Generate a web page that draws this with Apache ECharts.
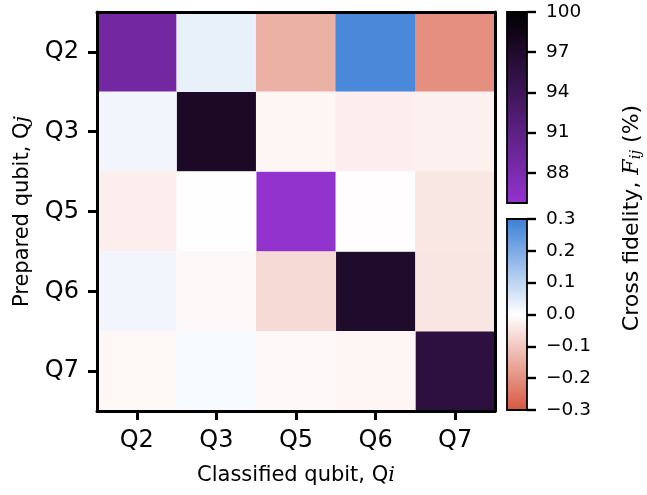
<!DOCTYPE html>
<html>
<head>
<meta charset="utf-8">
<script src="https://cdn.jsdelivr.net/npm/echarts@6/dist/echarts.min.js"></script>
<style>html,body{margin:0;padding:0;background:#fff}#c{width:647px;height:495px}</style>
</head>
<body>
<div id="c"></div>
<script>
// ---- data ----
const qubits = ['Q2', 'Q3', 'Q5', 'Q6', 'Q7'];
// diagonal: assignment fidelity (%) for prepared = classified
const diagFid = [88.9, 97.4, 85.8, 97.0, 95.6];
// off-diagonal cross fidelity, one array per prepared qubit (row), columns = classified qubit
const crossQ2 = [null, 0.035, -0.14, 0.276, -0.2];
const crossQ3 = [0.02, null, -0.016, -0.03, -0.025];
const crossQ5 = [-0.03, -0.001, null, -0.003, -0.043];
const crossQ6 = [0.02, -0.01, -0.066, null, -0.046];
const crossQ7 = [-0.014, 0.01, -0.012, -0.016, null];
const diagRange = [85.75, 100];
const crossRange = [-0.3, 0.3];
const diagTicks = [88, 91, 94, 97, 100];
const crossTicks = [-0.3, -0.2, -0.1, 0, 0.1, 0.2, 0.3];

const diagColors = ['#9333cf', '#000000'];
const crossColors = ['#d6573f', '#ffffff', '#3a7fd6'];

const crossRows = [crossQ2, crossQ3, crossQ5, crossQ6, crossQ7];
const diagData = diagFid.map((v, k) => [k, k, v]);
const crossData = [];
crossRows.forEach((row, j) => row.forEach((v, i) => { if (v !== null) crossData.push([i, j, v]); }));

const FONT = 'DejaVu Sans';
const fmtCross = v => (v < 0 ? '\u2212' : '') + Math.abs(v).toFixed(1);

function gradient(colors) {
  const stops = colors.map((c, k) => ({ offset: k / (colors.length - 1), color: c }));
  return new echarts.graphic.LinearGradient(0, 1, 0, 0, stops);
}
function barRender(colors) {
  return function (params, api) {
    const p0 = api.coord([api.value(0), api.value(1)]);
    const p1 = api.coord([api.value(2), api.value(3)]);
    return {
      type: 'rect',
      shape: { x: p0[0], y: p1[1], width: p1[0] - p0[0], height: p0[1] - p1[1] },
      style: { fill: gradient(colors), stroke: '#000', lineWidth: 1.8 }
    };
  };
}

const mainAxisLine = { show: true, lineStyle: { color: '#000', width: 3 } };
const mainTick = { show: true, inside: false, alignWithLabel: true, length: 9, lineStyle: { color: '#000', width: 3 } };
const barTick = { show: true, inside: false, length: 9, lineStyle: { color: '#000', width: 2.4 } };
const chart = echarts.init(document.getElementById('c'));
chart.setOption({
  animation: false,
  grid: [
    { left: 97, top: 12, width: 398, height: 399 },
    { left: 507, top: 12, width: 20, height: 191 },
    { left: 507, top: 219, width: 20, height: 191 }
  ],
  xAxis: [
    {
      type: 'category', data: qubits, gridIndex: 0, position: 'bottom', z: 10,
      axisLine: mainAxisLine, axisTick: mainTick,
      axisLabel: { color: '#000', fontSize: 24, fontFamily: FONT, margin: 18 },
      splitLine: { show: false },
      name: 'Classified qubit, Q{m|i}', nameLocation: 'middle', nameGap: 54,
      nameTextStyle: { color: '#000', fontSize: 21, fontFamily: FONT,
        rich: { m: { fontFamily: 'DejaVu Serif', fontStyle: 'italic', fontSize: 21, color: '#000' } } }
    },
    {
      type: 'category', data: qubits, gridIndex: 0, position: 'top', z: 10,
      axisLine: mainAxisLine, axisTick: { show: false }, axisLabel: { show: false }, splitLine: { show: false }
    },
    { type: 'value', gridIndex: 1, min: 1, max: 2, show: false },
    { type: 'value', gridIndex: 2, min: 1, max: 2, show: false }
  ],
  yAxis: [
    {
      type: 'category', data: qubits, gridIndex: 0, inverse: true, position: 'left', z: 10,
      axisLine: mainAxisLine, axisTick: mainTick,
      axisLabel: { color: '#000', fontSize: 24, fontFamily: FONT, margin: 18 },
      splitLine: { show: false },
      name: 'Prepared qubit, Q{m|j}', nameLocation: 'middle', nameGap: 64,
      nameTextStyle: { color: '#000', fontSize: 21, fontFamily: FONT,
        rich: { m: { fontFamily: 'DejaVu Serif', fontStyle: 'italic', fontSize: 21, color: '#000' } } }
    },
    {
      type: 'category', data: qubits, gridIndex: 0, inverse: true, position: 'right', z: 10,
      axisLine: mainAxisLine, axisTick: { show: false }, axisLabel: { show: false }, splitLine: { show: false }
    },
    {
      type: 'value', gridIndex: 1, min: diagRange[0], max: diagRange[1], position: 'right', z: 10,
      axisLine: { show: false, onZero: false }, splitLine: { show: false },
      axisTick: Object.assign({ customValues: diagTicks }, barTick),
      axisLabel: { show: true, customValues: diagTicks, color: '#000', fontSize: 18.5, fontFamily: FONT, margin: 19 }
    },
    {
      type: 'value', gridIndex: 2, min: crossRange[0], max: crossRange[1], position: 'right', z: 10,
      axisLine: { show: false, onZero: false }, splitLine: { show: false },
      axisTick: Object.assign({ customValues: crossTicks }, barTick),
      axisLabel: { show: true, customValues: crossTicks, formatter: fmtCross, color: '#000', fontSize: 18.5, fontFamily: FONT, margin: 19 }
    }
  ],
  visualMap: [
    { type: 'continuous', seriesIndex: 0, min: diagRange[0], max: diagRange[1], show: false, inRange: { color: diagColors } },
    { type: 'continuous', seriesIndex: 1, min: crossRange[0], max: crossRange[1], show: false, inRange: { color: crossColors } }
  ],
  series: [
    { type: 'heatmap', xAxisIndex: 0, yAxisIndex: 0, data: diagData, itemStyle: { borderWidth: 0 } },
    { type: 'heatmap', xAxisIndex: 0, yAxisIndex: 0, data: crossData, itemStyle: { borderWidth: 0 } },
    { type: 'custom', xAxisIndex: 2, yAxisIndex: 2, renderItem: barRender(diagColors),
      data: [[1, diagRange[0], 2, diagRange[1]]], z: 1 },
    { type: 'custom', xAxisIndex: 3, yAxisIndex: 3, renderItem: barRender(crossColors),
      data: [[1, crossRange[0], 2, crossRange[1]]], z: 1 }
  ],
  graphic: [{
    type: 'text', x: 632, y: 218, rotation: Math.PI / 2,
    style: {
      text: 'Cross fidelity, {m|F}{s|ij} (%)',
      font: '22px "DejaVu Sans"', fill: '#000', align: 'center', verticalAlign: 'middle',
      rich: {
        m: { fontFamily: 'DejaVu Serif', fontStyle: 'italic', fontSize: 22, fill: '#000' },
        s: { fontFamily: 'DejaVu Serif', fontStyle: 'italic', fontSize: 15, fill: '#000', verticalAlign: 'bottom', padding: [8, 0, 0, 0] }
      }
    }
  }]
});
</script>
</body>
</html>
